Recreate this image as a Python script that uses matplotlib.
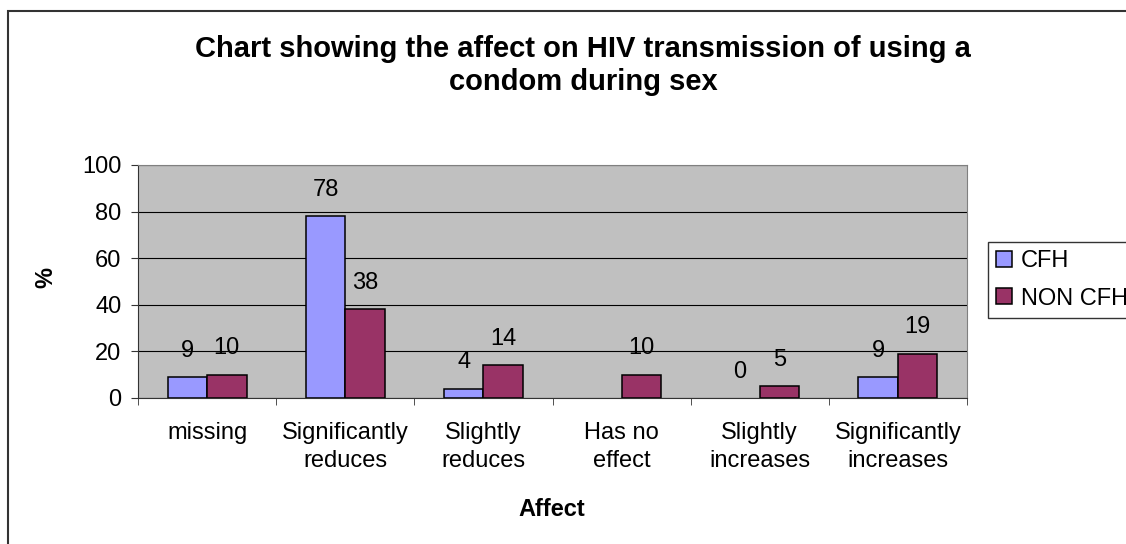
import matplotlib.pyplot as plt
import numpy as np
from matplotlib.patches import Rectangle

plt.rcParams['font.family'] = ['Liberation Sans', 'DejaVu Sans']

categories = ['missing', 'Significantly\nreduces', 'Slightly\nreduces',
              'Has no\neffect', 'Slightly\nincreases', 'Significantly\nincreases']
cfh = [9, 78, 4, np.nan, 0, 9]
non_cfh = [10, 38, 14, 10, 5, 19]

W, H = 1126, 544
fig = plt.figure(figsize=(W / 100, H / 100), dpi=100)

# chart frame (runs off the right and bottom edges)
fig.add_artist(Rectangle((8 / W, -0.05), 1.2, (H - 11) / H + 0.05,
                         transform=fig.transFigure, fill=False,
                         ec='#333333', lw=1.5))

ax = fig.add_axes([138 / W, 1 - 398 / H, 829 / W, 233 / H])
ax.set_facecolor('#C0C0C0')

x = np.arange(len(categories)) + 0.5
bw = 1 / 3.5
series = [(x - bw / 2, cfh, '#9999FF', 'CFH'),
          (x + bw / 2, non_cfh, '#993366', 'NON CFH')]

for xs, vals, col, name in series:
    bars = ax.bar(xs, vals, bw, color=col, edgecolor='black', lw=1.1, label=name)
    for b, xi, v in zip(bars, xs, vals):
        if np.isnan(v):
            continue
        if v == 0:
            b.set_linewidth(0)  # empty bar: no outline
        ax.annotate(f'{v:g}', (xi, v), xytext=(0, 19), textcoords='offset points',
                    ha='center', va='center', fontsize=17)

ax.set_xlim(0, 6)
ax.set_ylim(0, 100)
ax.set_yticks(range(0, 101, 20))
ax.yaxis.grid(True, color='black', lw=0.8)
ax.set_axisbelow(True)

ax.set_xticks(x, categories)
ax.set_xticks(np.arange(7), minor=True)
ax.tick_params(axis='x', which='major', length=0, pad=17, labelsize=17)
ax.tick_params(axis='x', which='minor', length=5, direction='out', color='#333333')
ax.tick_params(axis='y', length=5, pad=7, labelsize=17, color='#333333')
for lbl in ax.get_xticklabels():
    lbl.set_linespacing(1.35)

for side in ['top', 'right']:
    ax.spines[side].set_color('#808080')
for side in ['left', 'bottom']:
    ax.spines[side].set_color('#333333')

fig.text(552 / W, 1 - 510 / H, 'Affect', ha='center', va='center',
         fontsize=17, fontweight='bold')
fig.text(46 / W, 1 - 277 / H, '%', ha='center', va='center', rotation=90,
         fontsize=17, fontweight='bold')

fig.text(583 / W, 1 - 35 / H,
         'Chart showing the affect on HIV transmission of using a\ncondom during sex',
         ha='center', va='top', fontsize=21, fontweight='bold', linespacing=1.25)

fig.legend(loc='upper left', bbox_to_anchor=(988 / W, 1 - 242 / H), frameon=True,
           fancybox=False, edgecolor='black', fontsize=17, handlelength=0.65,
           handleheight=0.65, handletextpad=0.4, borderpad=0.35, labelspacing=0.65,
           borderaxespad=0)

fig.savefig('out.png', dpi=100)
